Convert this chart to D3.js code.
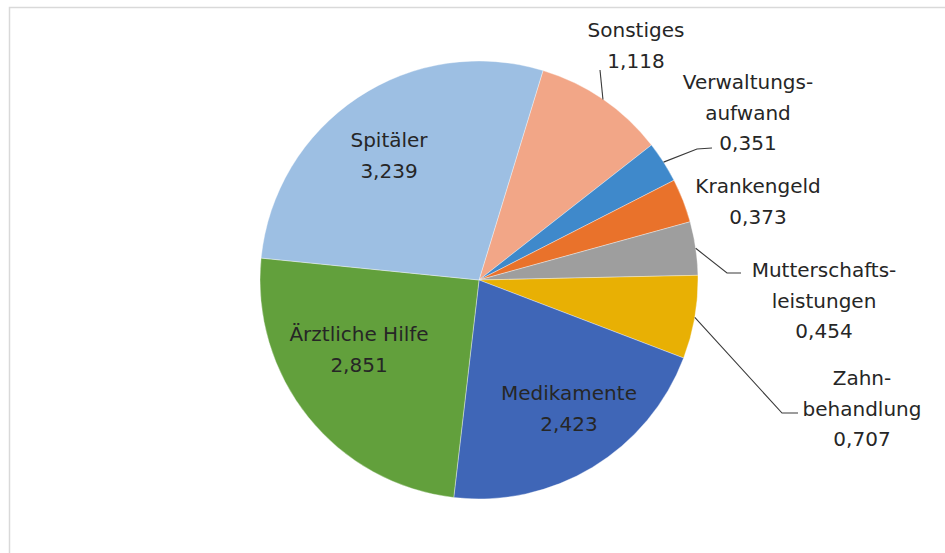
<!DOCTYPE html>
<html>
<head>
<meta charset="utf-8">
<script src="https://cdn.jsdelivr.net/npm/d3@7"></script>
<style>
  html, body { margin: 0; padding: 0; background: #fff; }
  svg { display: block; }
</style>
</head>
<body>
<svg id="chart" width="945" height="553"></svg>
<script>
// ---- data ----
const categories = ["Sonstiges", "Verwaltungsaufwand", "Krankengeld", "Mutterschaftsleistungen",
                    "Zahnbehandlung", "Medikamente", "Ärztliche Hilfe", "Spitäler"];
const values = [1.118, 0.351, 0.373, 0.454, 0.707, 2.423, 2.851, 3.239];
const labelLines = [["Sonstiges"], ["Verwaltungs-", "aufwand"], ["Krankengeld"],
                    ["Mutterschafts-", "leistungen"], ["Zahn-", "behandlung"],
                    ["Medikamente"], ["Ärztliche Hilfe"], ["Spitäler"]];

// ---- styles / layout ----
const colors = ["#F2A687", "#3F89CB", "#E9722B", "#9E9E9E", "#E8B004", "#3F66B7", "#62A03C", "#9DBFE3"];
const cx = 479, cy = 280, radius = 219;
const startDeg = 17;
// label anchor (center x, first baseline) relative to pie center
const labelPos = [[157, -243], [269, -191], [279, -87], [345, -3], [383, 105], [90, 120], [-120, 61], [-90, -133]];
// leader polyline points relative to pie center (after the edge point)
const leaders = [
  [[121, -210]],
  [[218, -131], [233, -132]],
  null,
  [[248, -7], [262, -7]],
  [[303, 133], [319, 133]],
  null, null, null
];
const lineH = 30.5;

const locale = d3.formatLocale({decimal: ",", thousands: ".", grouping: [3], currency: ["", ""]});
const fmt = locale.format(".3f");

const svg = d3.select("#chart");

// frame
svg.append("rect")
  .attr("x", 9.5).attr("y", 7.5).attr("width", 1000).attr("height", 1000)
  .attr("fill", "none").attr("stroke", "#d9d9d9").attr("stroke-width", 1.5);

const g = svg.append("g").attr("transform", `translate(${cx},${cy})`);

const data = categories.map((c, i) => ({cat: c, value: values[i], i}));
const pie = d3.pie().sort(null).value(d => d.value)
  .startAngle(startDeg * Math.PI / 180)
  .endAngle((startDeg + 360) * Math.PI / 180);
const arcs = pie(data);
const arc = d3.arc().innerRadius(0).outerRadius(radius);

g.selectAll("path.slice").data(arcs).enter().append("path")
  .attr("class", "slice")
  .attr("d", arc)
  .attr("fill", d => colors[d.data.i])
  .attr("stroke", "#ffffff").attr("stroke-width", 0.6).attr("stroke-opacity", 0.6);

// leader lines
arcs.forEach(a => {
  const L = leaders[a.data.i];
  if (!L) return;
  const mid = (a.startAngle + a.endAngle) / 2;
  const p0 = [Math.sin(mid) * radius, -Math.cos(mid) * radius];
  const pts = [p0].concat(L);
  g.append("path")
    .attr("d", d3.line()(pts))
    .attr("fill", "none").attr("stroke", "#3a3a3a").attr("stroke-width", 1.1);
});

// labels
arcs.forEach(a => {
  const i = a.data.i;
  const lines = labelLines[i].concat([fmt(a.data.value)]);
  const [lx, ly] = labelPos[i];
  const t = g.append("text")
    .attr("text-anchor", "middle")
    .attr("font-family", "'DejaVu Sans', sans-serif")
    .attr("font-size", 20)
    .attr("fill", "#262626");
  lines.forEach((s, k) => {
    t.append("tspan").attr("x", lx).attr("y", ly + k * lineH).text(s);
  });
});
</script>
</body>
</html>
